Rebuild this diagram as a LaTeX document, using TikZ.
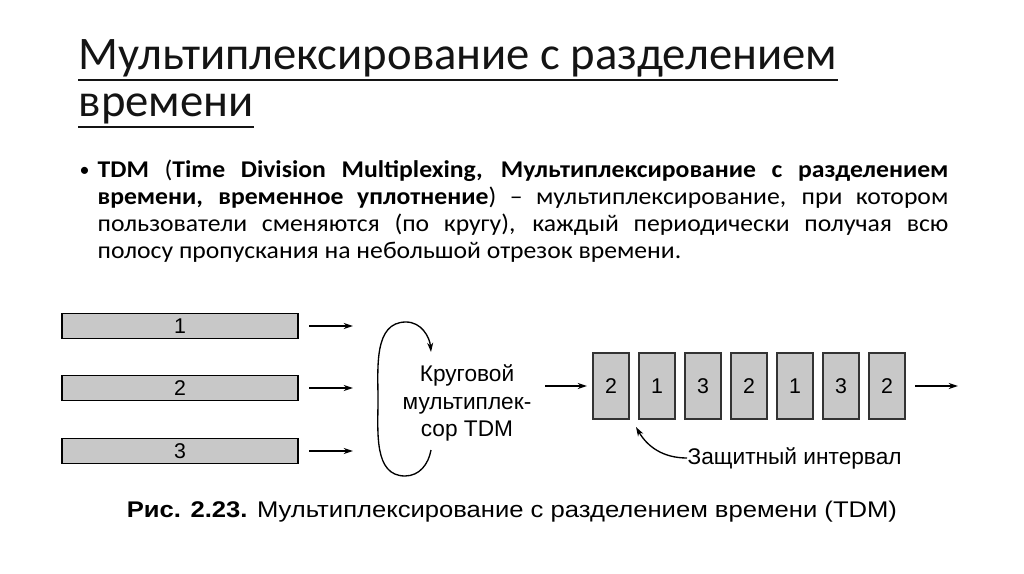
\documentclass[tikz,border=0pt]{standalone}
\usepackage{fontspec}
\setmainfont{Carlito}
\newfontfamily\bodyfont[FakeStretch=1.07]{Carlito}
\newfontfamily\figfont{Liberation Sans}
\newfontfamily\capfont[FakeStretch=1.13]{Liberation Sans}
\usepackage{xcolor}
\usetikzlibrary{positioning,arrows.meta}
\definecolor{ink}{RGB}{20,20,20}
\definecolor{slotgray}{RGB}{200,200,200}
\tikzset{%
    bar/.style={draw=black,fill=slotgray,line width=1.1pt,
        minimum width=177pt,minimum height=18.75pt,inner sep=0pt,
        font=\figfont\fontsize{16}{18}\selectfont},
    slot/.style={draw=black!80,fill=slotgray,line width=0.9pt,
        minimum width=27pt,minimum height=49.5pt,inner sep=0pt,
        font=\figfont\fontsize{16}{18}\selectfont},
    title/.style={anchor=base west,inner sep=0pt,text=ink,
        font=\fontsize{35}{37}\selectfont}
}

\begin{document}
\begin{tikzpicture}[x=0.75pt,y=-0.75pt,>={Stealth[length=7pt,width=4.5pt]},
  node distance=34.5pt,line width=1pt]
  \useasboundingbox (0,0) rectangle (1024,574);

  % title and text of the slide
  \node[title] (title1) at (78,70) {Мультиплексирование с разделением};
  \node[title] (title2) at (78,117) {времени};
  \draw[ink,line width=1.5pt] ([yshift=-1.5pt]title1.south west) -- ([yshift=-1.5pt]title1.south east);
  \draw[ink,line width=1.5pt] ([yshift=-1.5pt]title2.south west) -- ([yshift=-1.5pt]title2.south east);
  \node[anchor=base west,inner sep=0pt,font=\fontsize{15}{20}\selectfont]
    (bullet) at (79,176) {•};
  \node[anchor=base west,inner sep=0pt,text width=638pt,align=justify,
    font=\bodyfont\fontsize{18}{20}\selectfont] (body) at (97,178)
    {\textbf{TDM} (\textbf{Time Division Multiplexing, Мультиплексирование с разделением}\linebreak
     \textbf{времени, временное уплотнение}) – мультиплексирование, при котором\linebreak
     пользователи сменяются (по кругу), каждый периодически получая всю\linebreak
     полосу пропускания на небольшой отрезок времени.};

  % input lines
  \node[bar] (b1) at (180,326) {1};
  \node[bar] (b2) at (180,388) {2};
  \node[bar] (b3) at (180,451) {3};
  \coordinate (a1) at (309,326);
  \coordinate (a2) at (309,388);
  \coordinate (a3) at (309,451);
  \coordinate (e1) at (353,326);
  \coordinate (e2) at (353,388);
  \coordinate (e3) at (353,451);

  % multiplexer
  \node[align=center,font=\figfont\fontsize{17}{20.5}\selectfont] (mux) at (467,403)
    {Круговой\\мультиплек-\\сор TDM};
  \coordinate (rs) at (431,450);
  \coordinate (re) at (431,352);

  % output slots
  \node[slot] (s1) at (611,386) {2};
  \node[slot] (s2) [right of=s1] {1};
  \node[slot] (s3) [right of=s2] {3};
  \node[slot] (s4) [right of=s3] {2};
  \node[slot] (s5) [right of=s4] {1};
  \node[slot] (s6) [right of=s5] {3};
  \node[slot] (s7) [right of=s6] {2};
  \coordinate (m1) at (545,386);
  \coordinate (m2) at (587,386);
  \coordinate (o1) at (915,386);
  \coordinate (o2) at (958,386);

  \node[anchor=west,inner sep=0pt,font=\figfont\fontsize{17}{20}\selectfont]
    (guard) at (687,458) {Защитный интервал};
  \coordinate (gap) at (636,427);

  \node[inner sep=0pt,font=\capfont\fontsize{17}{20}\selectfont] (cap) at (512,512)
    {\textbf{Рис. 2.23.} Мультиплексирование с разделением времени (TDM)};

  \path[->]
    (a1) edge (e1)
    (a2) edge (e2)
    (a3) edge (e3)
    (m1) edge (m2)
    (o1) edge (o2);
  \draw[->] (rs) to[out=-100,in=0] (405,476) to[out=180,in=-90] (378,400)
    to[out=90,in=180] (406,322) to[out=0,in=95] (re);
  \draw[->] (guard.west) to[out=180,in=-60] (gap);
\end{tikzpicture}
\end{document}
